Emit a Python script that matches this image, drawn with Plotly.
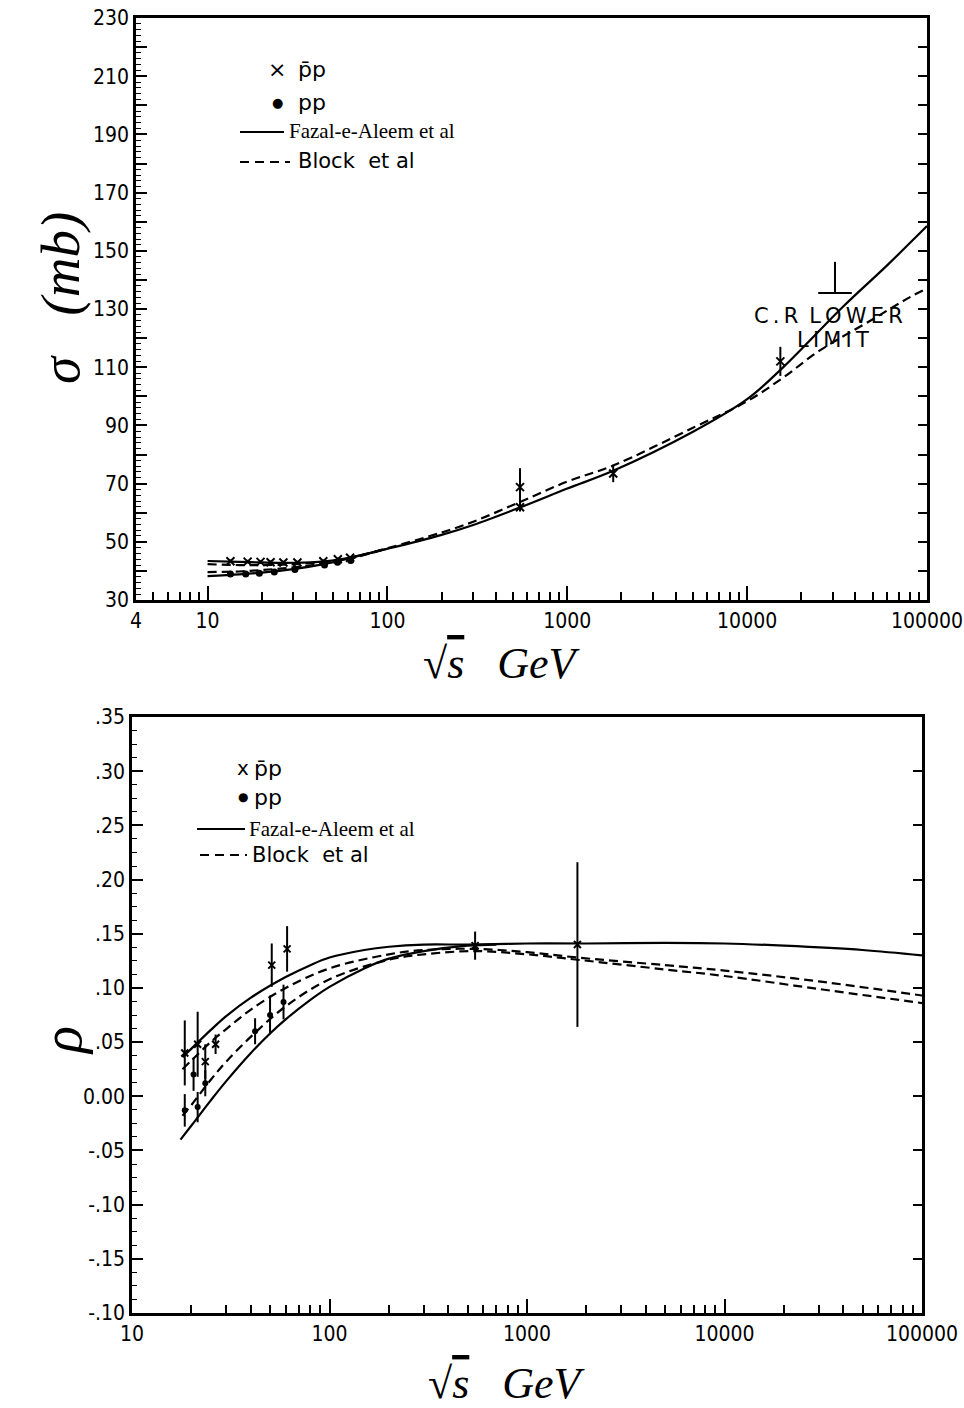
import plotly.graph_objects as go

# ---------------- top panel : total cross section (mb) ----------------
sig_E_fazal_pbp = [10, 15, 20, 30, 45, 60, 100, 200, 300, 546, 1000, 1800, 5000, 10000, 16000, 34000, 60000, 100000]
sig_fazal_pbp = [43.4, 43.1, 42.9, 42.8, 43.3, 44.4, 47.6, 52.4, 55.8, 61.8, 68.3, 74.4, 87.8, 99.0, 110.2, 130.7, 145.0, 158.5]
sig_E_fazal_pp = [10, 15, 20, 30, 45, 60, 100]
sig_fazal_pp = [38.2, 38.8, 39.4, 40.6, 42.4, 44.2, 47.6]

sig_E_block_pbp = [10, 15, 20, 30, 45, 60, 100, 200, 300, 546, 1000, 1800, 5000, 10000, 16000, 25000, 50000, 80000, 100000]
sig_block_pbp = [42.3, 42.0, 42.0, 42.3, 43.2, 44.3, 47.8, 53.2, 56.9, 63.7, 70.7, 76.2, 89.2, 98.3, 106.6, 115.5, 126.5, 134.0, 137.0]
sig_E_block_pp = [10, 15, 20, 30, 45, 60, 100]
sig_block_pp = [39.6, 39.8, 40.3, 41.2, 42.6, 43.9, 47.8]

sig_E_pbp = [13.4, 16.7, 19.7, 22.4, 26.4, 31.6, 44.0, 53.0, 62.0, 546, 546, 1800, 15300]
sig_pbp = [43.3, 43.2, 43.1, 43.0, 42.9, 42.9, 43.3, 44.0, 44.5, 68.8, 61.9, 73.5, 112.0]
sig_pbp_err = [0.6, 0.6, 0.6, 0.6, 0.6, 0.6, 0.6, 0.6, 0.6, 6.5, 1.5, 3.0, 5.0]

sig_E_pp = [13.4, 16.3, 19.4, 23.5, 30.6, 44.7, 52.8, 62.5]
sig_pp = [38.9, 38.9, 39.2, 39.6, 40.5, 42.0, 43.0, 43.6]
sig_pp_err = [0.3, 0.3, 0.3, 0.3, 0.3, 0.3, 0.3, 0.3]

sig_E_cr = [30800]
sig_cr = [135.5]
sig_cr_up = [10.7]

sig_ticks = [30, 40, 50, 60, 70, 80, 90, 100, 110, 120, 130, 140, 150, 160, 170, 180, 190, 200, 210, 220, 230]
sig_ticktext = ["30", "", "50", "", "70", "", "90", "", "110", "", "130", "", "150", "", "170", "", "190", "", "210", "", "230"]
top_xticks = [4, 10, 100, 1000, 10000, 100000]
top_xticktext = ["4", "10", "100", "1000", "10000", "100000"]

# ---------------- bottom panel : rho ----------------
rho_E_fazal_pbp = [18, 20, 25, 30, 40, 60, 80, 100, 150, 200, 300, 500, 1000, 2000, 5000, 10000, 20000, 50000, 100000]
rho_fazal_pbp = [0.036, 0.044, 0.061, 0.074, 0.091, 0.110, 0.121, 0.128, 0.135, 0.138, 0.140, 0.140, 0.141, 0.141, 0.1415, 0.141, 0.139, 0.135, 0.130]
rho_E_fazal_pp = [17.6, 20, 25, 30, 40, 50, 60, 80, 100, 150, 200, 300, 500, 700]
rho_fazal_pp = [-0.040, -0.027, -0.004, 0.014, 0.040, 0.058, 0.071, 0.089, 0.101, 0.118, 0.127, 0.134, 0.139, 0.140]

rho_E_block = [18, 20, 25, 30, 40, 60, 100, 200, 300, 546, 1000, 1800, 5000, 10000, 30000, 100000]
rho_block_pbp = [0.025, 0.033, 0.050, 0.062, 0.080, 0.100, 0.118, 0.131, 0.135, 0.136, 0.133, 0.128, 0.121, 0.116, 0.106, 0.093]
rho_block_pp = [-0.018, -0.008, 0.015, 0.032, 0.055, 0.083, 0.108, 0.126, 0.131, 0.134, 0.131, 0.126, 0.117, 0.111, 0.099, 0.086]

rho_E_pbp = [18.5, 21.5, 23.5, 26.5, 51, 61, 546, 1800]
rho_pbp = [0.040, 0.048, 0.032, 0.048, 0.121, 0.136, 0.139, 0.140]
rho_pbp_err = [0.030, 0.030, 0.016, 0.009, 0.020, 0.021, 0.013, 0.076]

rho_E_pp = [18.5, 20.5, 21.5, 23.5, 42, 50, 58.5]
rho_pp = [-0.013, 0.020, -0.010, 0.012, 0.060, 0.075, 0.087]
rho_pp_err = [0.015, 0.015, 0.014, 0.012, 0.012, 0.018, 0.016]

rho_ticks = [0.35, 0.30, 0.25, 0.20, 0.15, 0.10, 0.05, 0.0, -0.05, -0.10, -0.15, -0.20]
rho_ticktext = [".35", ".30", ".25", ".20", ".15", ".10", ".05", "0.00", "-.05", "-.10", "-.15", "-.10"]
bot_xticks = [10, 100, 1000, 10000, 100000]
bot_xticktext = ["10", "100", "1000", "10000", "100000"]

# ---------------------------------------------------------------
W, H = 964, 1408
def px(x): return x / W
def py(y): return 1 - y / H

fig = go.Figure()
sol = dict(color="black", width=2.2)
dsh = dict(color="black", width=2.2, dash="9px,5px")

# top curves
fig.add_trace(go.Scatter(x=sig_E_fazal_pbp, y=sig_fazal_pbp, mode="lines", line=sol, line_shape="spline", xaxis="x", yaxis="y"))
fig.add_trace(go.Scatter(x=sig_E_fazal_pp, y=sig_fazal_pp, mode="lines", line=sol, line_shape="spline", xaxis="x", yaxis="y"))
fig.add_trace(go.Scatter(x=sig_E_block_pbp, y=sig_block_pbp, mode="lines", line=dsh, line_shape="spline", xaxis="x", yaxis="y"))
fig.add_trace(go.Scatter(x=sig_E_block_pp, y=sig_block_pp, mode="lines", line=dsh, line_shape="spline", xaxis="x", yaxis="y"))
# top data
eb = dict(type="data", color="black", thickness=2, width=0)
fig.add_trace(go.Scatter(x=sig_E_pbp, y=sig_pbp, mode="markers", xaxis="x", yaxis="y",
                         marker=dict(symbol="x-thin", size=8, line=dict(color="black", width=2)),
                         error_y=dict(eb, array=sig_pbp_err)))
fig.add_trace(go.Scatter(x=sig_E_pp, y=sig_pp, mode="markers", xaxis="x", yaxis="y",
                         marker=dict(symbol="circle", size=7, color="black"),
                         error_y=dict(eb, array=sig_pp_err)))
fig.add_trace(go.Scatter(x=sig_E_cr, y=sig_cr, mode="markers", xaxis="x", yaxis="y",
                         marker=dict(symbol="line-ew", size=24, line=dict(color="black", width=2.2)),
                         error_y=dict(type="data", symmetric=False, array=sig_cr_up, arrayminus=[0],
                                      color="black", thickness=2, width=0)))

# bottom curves
fig.add_trace(go.Scatter(x=rho_E_fazal_pbp, y=rho_fazal_pbp, mode="lines", line=sol, line_shape="spline", xaxis="x2", yaxis="y2"))
fig.add_trace(go.Scatter(x=rho_E_fazal_pp, y=rho_fazal_pp, mode="lines", line=sol, line_shape="spline", xaxis="x2", yaxis="y2"))
fig.add_trace(go.Scatter(x=rho_E_block, y=rho_block_pbp, mode="lines", line=dsh, line_shape="spline", xaxis="x2", yaxis="y2"))
fig.add_trace(go.Scatter(x=rho_E_block, y=rho_block_pp, mode="lines", line=dsh, line_shape="spline", xaxis="x2", yaxis="y2"))
fig.add_trace(go.Scatter(x=rho_E_pbp, y=rho_pbp, mode="markers", xaxis="x2", yaxis="y2",
                         marker=dict(symbol="x-thin", size=7, line=dict(color="black", width=2)),
                         error_y=dict(eb, array=rho_pbp_err)))
fig.add_trace(go.Scatter(x=rho_E_pp, y=rho_pp, mode="markers", xaxis="x2", yaxis="y2",
                         marker=dict(symbol="circle", size=6, color="black"),
                         error_y=dict(eb, array=rho_pp_err)))

# dummy traces to hold the right-hand tick axes
fig.add_trace(go.Scatter(x=[], y=[], xaxis="x", yaxis="y3"))
fig.add_trace(go.Scatter(x=[], y=[], xaxis="x2", yaxis="y4"))

tickfont = dict(family="Liberation Sans Narrow, DejaVu Sans Condensed, DejaVu Sans", size=21, color="black")

def minor_log(lo_dec, hi_dec):
    v = []
    for d in range(lo_dec, hi_dec):
        for m in range(2, 10):
            v.append(m * 10 ** d)
    return v

top_minor = [5, 6, 7, 8, 9] + minor_log(1, 5)
bot_minor = minor_log(1, 5)

axline = dict(showline=True, linecolor="black", linewidth=2.5, mirror=True, showgrid=False, zeroline=False,
              automargin=False)

fig.update_layout(
    template="none",
    width=W, height=H, margin=dict(l=0, r=0, t=0, b=0, autoexpand=False),
    paper_bgcolor="white", plot_bgcolor="white", showlegend=False,
    xaxis=dict(axline, type="log", domain=[px(136), px(927)], range=[0.60206, 5], anchor="y",
               tickvals=top_xticks, ticktext=top_xticktext, ticks="inside", ticklen=14, tickwidth=1.5,
               tickcolor="black", tickfont=tickfont,
               minor=dict(tickvals=top_minor, ticks="inside", ticklen=8, tickwidth=1.5, tickcolor="black")),
    yaxis=dict(axline, domain=[py(600), py(18)], range=[30, 230], anchor="x",
               tickvals=sig_ticks, ticktext=sig_ticktext, ticks="inside", ticklen=11, tickwidth=1.5,
               tickcolor="black", tickfont=tickfont,
               minor=dict(dtick=2, tick0=30, ticks="inside", ticklen=5, tickwidth=1.2, tickcolor="black")),
    yaxis3=dict(overlaying="y", side="right", anchor="x", range=[30, 230], showgrid=False, zeroline=False,
                automargin=False,
                tickvals=sig_ticks, showticklabels=False, ticks="inside", ticklen=9, tickwidth=1.5,
                tickcolor="black", showline=False),
    xaxis2=dict(axline, type="log", domain=[px(132), px(922)], range=[1, 5], anchor="y2",
                tickvals=bot_xticks, ticktext=bot_xticktext, ticks="inside", ticklen=14, tickwidth=1.5,
                tickcolor="black", tickfont=tickfont,
                minor=dict(tickvals=bot_minor, ticks="inside", ticklen=8, tickwidth=1.5, tickcolor="black")),
    yaxis2=dict(axline, domain=[py(1313), py(717)], range=[-0.20, 0.35], anchor="x2",
                tickvals=rho_ticks, ticktext=rho_ticktext, ticks="inside", ticklen=11, tickwidth=1.5,
                tickcolor="black", tickfont=tickfont,
                minor=dict(dtick=0.0125, tick0=0, ticks="inside", ticklen=5, tickwidth=1.2, tickcolor="black")),
    yaxis4=dict(overlaying="y2", side="right", anchor="x2", range=[-0.20, 0.35], showgrid=False, zeroline=False,
                automargin=False,
                tickvals=rho_ticks, showticklabels=False, ticks="inside", ticklen=9, tickwidth=1.5,
                tickcolor="black", showline=False),
)

serif = "Liberation Serif"
sans = "DejaVu Sans"
ann = []
def t(x, y, text, size, family, xanchor="left", angle=0):
    ann.append(dict(x=px(x), y=py(y), xref="paper", yref="paper", text=text, showarrow=False,
                    xanchor=xanchor, yanchor="middle", textangle=angle,
                    font=dict(family=family, size=size, color="black")))

sqrt_s = "√<span style='text-decoration:overline'><i>s</i></span>&nbsp;&nbsp; <i>GeV</i>"
# axis titles
t(60, 298, "<i>σ</i>&nbsp;&nbsp; <i>(mb)</i>", 55, serif, "center", -90)
t(502, 663, sqrt_s, 44, serif, "center")
t(62, 1040, "<i>ρ</i>", 56, serif, "center", -90)
t(507, 1383, sqrt_s, 44, serif, "center")

# C.R lower limit label
t(828, 316, "C\u2009.\u2009R\u2009 L\u2009O\u2009W\u2009E\u2009R", 21, sans, "center")
t(833, 340, "L\u2009I\u2009M\u2009I\u2009T", 21, sans, "center")

# top legend
t(277, 70, "×", 22, sans, "center")
t(296, 70, "p̄p", 22, sans)
t(277, 102, "●", 13, sans, "center")
t(296, 102, "pp", 22, sans)
t(287, 131, "Fazal-e-Aleem et al", 21, serif)
t(296, 161, "Block&nbsp; et al", 21, sans)
# bottom legend
t(243, 768, "x", 20, sans, "center")
t(252, 768, "p̄p", 22, sans)
t(243, 797, "●", 12, sans, "center")
t(252, 797, "pp", 22, sans)
t(247, 829, "Fazal-e-Aleem et al", 21, serif)
t(250, 855, "Block&nbsp; et al", 21, sans)

shapes = [
    dict(type="line", xref="paper", yref="paper", x0=px(240), x1=px(284), y0=py(132), y1=py(132),
         line=dict(color="black", width=2.2)),
    dict(type="line", xref="paper", yref="paper", x0=px(240), x1=px(290), y0=py(162), y1=py(162),
         line=dict(color="black", width=2.2, dash="9px,6px")),
    dict(type="line", xref="paper", yref="paper", x0=px(197), x1=px(245), y0=py(829), y1=py(829),
         line=dict(color="black", width=2.2)),
    dict(type="line", xref="paper", yref="paper", x0=px(200), x1=px(247), y0=py(855), y1=py(855),
         line=dict(color="black", width=2.2, dash="9px,6px")),
]
fig.update_layout(annotations=ann, shapes=shapes)

fig.write_html("out.html")
